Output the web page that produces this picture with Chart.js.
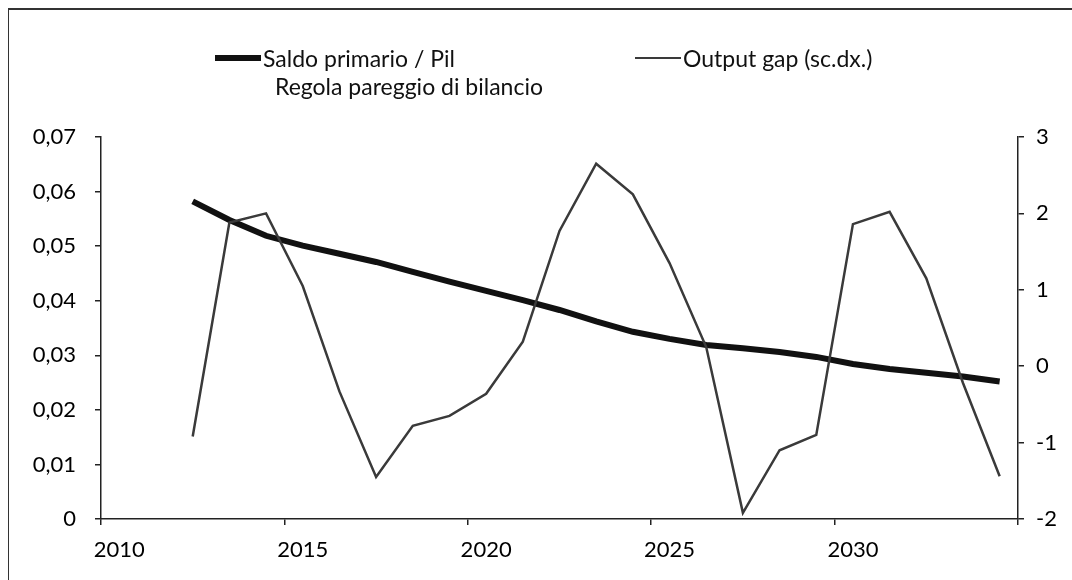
<!DOCTYPE html>
<html>
<head>
<meta charset="utf-8">
<script src="https://cdn.jsdelivr.net/npm/chart.js@4.4.1/dist/chart.umd.min.js"></script>
<style>
  html, body { margin: 0; padding: 0; background: #fff; }
  #contenitore { position: relative; width: 1072px; height: 580px; overflow: hidden; font-family: Lato, sans-serif; }
  #cornice { position: absolute; left: 8px; top: 8px; width: 1200px; height: 700px; border-left: 1px solid #333; border-top: 2px solid #333; }
  #grafico { position: absolute; left: 0; top: 0; }
  #legenda { position: absolute; left: 215px; top: 44px; display: grid; grid-template-columns: 420px auto; font-size: 23px; color: #111; }
  .voce { display: flex; align-items: center; height: 28px; }
  .voce:nth-child(3) { margin-left: 12px; }
  .simbolo { display: inline-block; width: 46px; margin-right: 2px; }
</style>
</head>
<body>
<div id="contenitore">
  <div id="cornice"></div>
  <canvas id="grafico" width="1072" height="580"></canvas>
  <div id="legenda"></div>
</div>
<script>
// anni sull'asse orizzontale
var anni = [2010, 2011, 2012, 2013, 2014, 2015, 2016, 2017, 2018, 2019, 2020, 2021,
            2022, 2023, 2024, 2025, 2026, 2027, 2028, 2029, 2030, 2031, 2032, 2033, 2034];

// saldo primario / Pil (scala sinistra)
var saldoPrimario = [null, null, 0.0582, 0.0548, 0.0519, 0.0501, 0.0486, 0.0471, 0.0453, 0.0435,
                     0.0418, 0.0401, 0.0383, 0.0362, 0.0343, 0.0330, 0.0319, 0.0313, 0.0306,
                     0.0297, 0.0284, 0.0275, 0.0268, 0.0261, 0.0252];

// output gap (scala destra)
var outputGap = [null, null, -0.92, 1.88, 2.0, 1.05, -0.33, -1.45, -0.78, -0.65, -0.36, 0.32,
                 1.77, 2.65, 2.25, 1.35, 0.25, -1.92, -1.1, -0.9, 1.86, 2.02, 1.15, -0.22, -1.44];

// regola pareggio di bilancio (nessun valore visibile)
var regolaPareggio = [];

Chart.defaults.font.family = "Lato, sans-serif";
Chart.defaults.font.size = 22;
Chart.defaults.color = "#111";

var referencia = document.querySelector("#grafico").getContext("2d");

var grafico = new Chart(referencia, {
    type: 'line',
    data: {
        labels: anni,
        datasets: [{
                label: "Saldo primario / Pil",
                data: saldoPrimario,
                borderColor: "#111",
                backgroundColor: "#111",
                borderWidth: 6,
                yAxisID: 'ySinistra',
                order: 1
            },
            {
                label: "Output gap (sc.dx.)",
                data: outputGap,
                borderColor: "#3a3a3a",
                backgroundColor: "#3a3a3a",
                borderWidth: 2.5,
                yAxisID: 'yDestra',
                order: 0
            },
            {
                label: "Regola pareggio di bilancio",
                data: regolaPareggio,
                borderColor: "rgba(0,0,0,0)",
                backgroundColor: "rgba(0,0,0,0)",
                borderWidth: 2,
                yAxisID: 'ySinistra',
                order: 2
            }
        ]
    },
    options: {
        responsive: false,
        animation: false,
        layout: { padding: { top: 137, left: 0, right: 0, bottom: 0 } },
        elements: {
            point: { radius: 0, hoverRadius: 0 },
            line: { tension: 0, borderCapStyle: 'butt', borderJoinStyle: 'miter' }
        },
        plugins: {
            legend: { display: false },
            tooltip: { enabled: false }
        },
        scales: {
            x: {
                type: 'category',
                offset: true,
                grid: {
                    offset: true,
                    drawOnChartArea: false,
                    drawTicks: true,
                    tickLength: 6,
                    lineWidth: 1.5,
                    color: function (ctx) {
                        return (ctx.index === undefined || ctx.index % 5 === 0) ? "#222" : "rgba(0,0,0,0)";
                    }
                },
                border: { display: true, color: "#222", width: 1.5 },
                ticks: {
                    autoSkip: false,
                    maxRotation: 0,
                    padding: 12,
                    color: "#000",
                    callback: function (value, index) {
                        var anno = anni[index];
                        return anno % 5 === 0 ? String(anno) : '';
                    }
                },
                afterFit: function (scale) { scale.height = 61; }
            },
            ySinistra: {
                type: 'linear',
                position: 'left',
                min: 0,
                max: 0.07,
                grid: { drawOnChartArea: false, tickLength: 6, color: "#222", lineWidth: 1.5 },
                border: { display: true, color: "#222", width: 1.5 },
                ticks: {
                    stepSize: 0.01,
                    padding: 19,
                    color: "#000",
                    callback: function (value) {
                        if (Math.abs(value) < 1e-9) return '0';
                        return value.toFixed(2).replace('.', ',');
                    }
                },
                afterFit: function (scale) { scale.width = 101; }
            },
            yDestra: {
                type: 'linear',
                position: 'right',
                min: -2,
                max: 3,
                grid: { drawOnChartArea: false, tickLength: 6, color: "#222", lineWidth: 1.5 },
                border: { display: true, color: "#222", width: 1.5 },
                ticks: {
                    stepSize: 1,
                    padding: 12,
                    color: "#000"
                },
                afterFit: function (scale) { scale.width = 54; }
            }
        }
    }
});

// legenda costruita dai dataset
var legenda = document.querySelector("#legenda");
grafico.data.datasets.forEach(function (ds) {
    var voce = document.createElement("div");
    voce.className = "voce";
    var simbolo = document.createElement("span");
    simbolo.className = "simbolo";
    simbolo.style.borderTop = ds.borderWidth + "px solid " + ds.borderColor;
    var testo = document.createElement("span");
    testo.textContent = ds.label;
    voce.appendChild(simbolo);
    voce.appendChild(testo);
    legenda.appendChild(voce);
});
</script>
</body>
</html>
